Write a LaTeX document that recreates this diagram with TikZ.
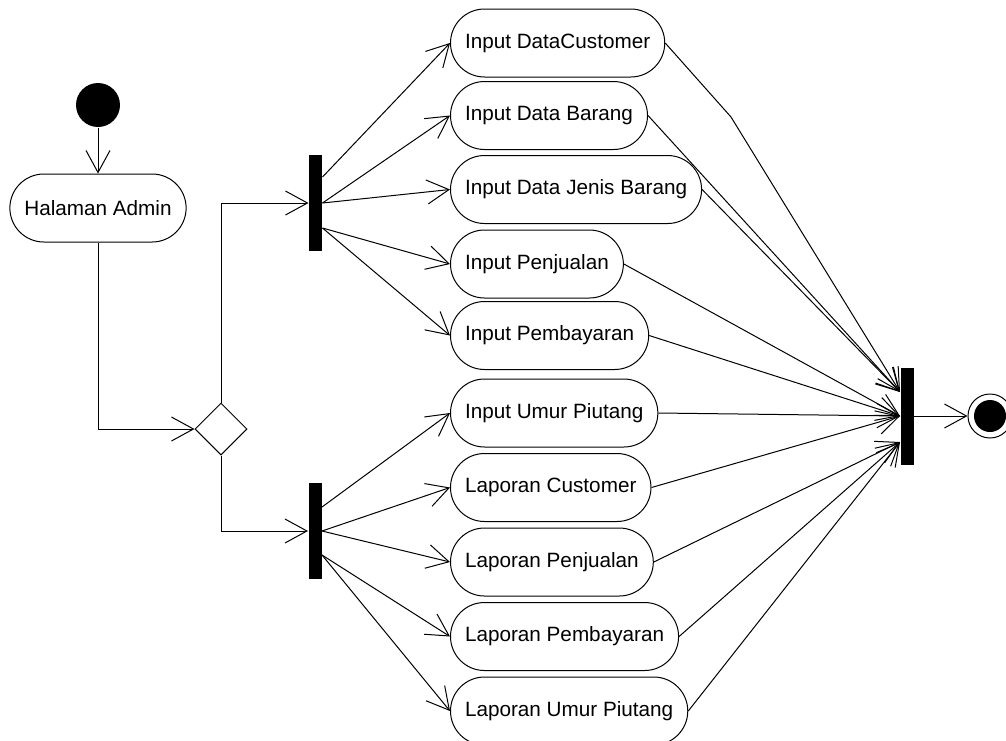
\documentclass[tikz,border=0pt]{standalone}
\usepackage{fontspec}
\setmainfont{Liberation Sans}
\usetikzlibrary{arrows.meta,shapes}

\begin{document}
\begin{tikzpicture}[x=1pt,y=-1pt,line width=1pt,>={Straight Barb[length=22pt,width=24pt]}]
  \tikzstyle{initial}=[circle,fill=black,minimum size=44pt,inner sep=0pt]
  \tikzstyle{final}=[circle,draw,minimum size=44pt,inner sep=0pt,
        path picture={\fill (path picture bounding box.center) circle (16pt);}]
  \tikzstyle{activity}=[rectangle,draw,rounded corners=34pt,minimum height=68pt,
        inner xsep=14.5pt,font=\fontsize{20.7}{25}\selectfont]
  \tikzstyle{bar}=[rectangle,fill=black,minimum width=13pt,minimum height=96pt,inner sep=0pt]
  \tikzstyle{decision}=[diamond,draw,minimum size=52pt,inner sep=0pt]
    \useasboundingbox (0,0) rectangle (1006,740);
    \node [initial] (start) at (98,105) {};
    \node [activity,minimum width=176pt] (admin) at (98,208) {Halaman Admin};
    \node [decision] (dec) at (221,429) {};
    \node [bar] (fork1) at (315.5,203) {};
    \node [bar] (fork2) at (315,531) {};
    \node [bar,minimum height=97pt] (join) at (907,416) {};
    \node [final] (end) at (990,416) {};
    \node [activity,anchor=west] (a1) at (450,43) {Input DataCustomer};
    \node [activity,anchor=west] (a2) at (450,115.5) {Input Data Barang};
    \node [activity,anchor=west] (a3) at (450,189.5) {Input Data Jenis Barang};
    \node [activity,anchor=west] (a4) at (450,264) {Input Penjualan};
    \node [activity,anchor=west] (a5) at (450,335.5) {Input Pembayaran};
    \node [activity,anchor=west] (a6) at (450,413) {Input Umur Piutang};
    \node [activity,anchor=west] (a7) at (450,487.5) {Laporan Customer};
    \node [activity,anchor=west] (a8) at (450,562) {Laporan Penjualan};
    \node [activity,anchor=west] (a9) at (450,636.5) {Laporan Pembayaran};
    \node [activity,anchor=west] (a10) at (450,711) {Laporan Umur Piutang};
    \coordinate (bend) at (731,117);
    % alur awal
    \draw [->] (start) -- (admin);
    \draw [->] (admin) |- (dec);
    \draw [->] (dec) |- (fork1);
    \draw [->] (dec) |- (fork2);
    % percabangan
    \draw [->] ([yshift=26pt]fork1.east) -- (a1.west);
    \draw [->] (fork1.east) -- (a2.west);
    \draw [->] (fork1.east) -- (a3.west);
    \draw [->] ([yshift=-25pt]fork1.east) -- (a4.west);
    \draw [->] ([yshift=-25pt]fork1.east) -- (a5.west);
    \draw [->] ([yshift=24pt]fork2.east) -- (a6.west);
    \draw [->] (fork2.east) -- (a7.west);
    \draw [->] (fork2.east) -- (a8.west);
    \draw [->] ([yshift=-24pt]fork2.east) -- (a9.west);
    \draw [->] ([yshift=-24pt]fork2.east) -- (a10.west);
    % penggabungan
    \draw [->] (a1.east) -- (bend) -- ([yshift=24pt]join.west);
    \draw [->] (a2.east) -- ([yshift=24pt]join.west);
    \draw [->] (a3.east) -- ([yshift=24pt]join.west);
    \draw [->] (a4.east) -- (join.west);
    \draw [->] (a5.east) -- (join.west);
    \draw [->] (a6.east) -- (join.west);
    \draw [->] (a7.east) -- (join.west);
    \draw [->] (a8.east) -- ([yshift=-26pt]join.west);
    \draw [->] (a9.east) -- ([yshift=-26pt]join.west);
    \draw [->] (a10.east) -- ([yshift=-26pt]join.west);
    \draw [->] (join) -- (end);
\end{tikzpicture}
\end{document}
